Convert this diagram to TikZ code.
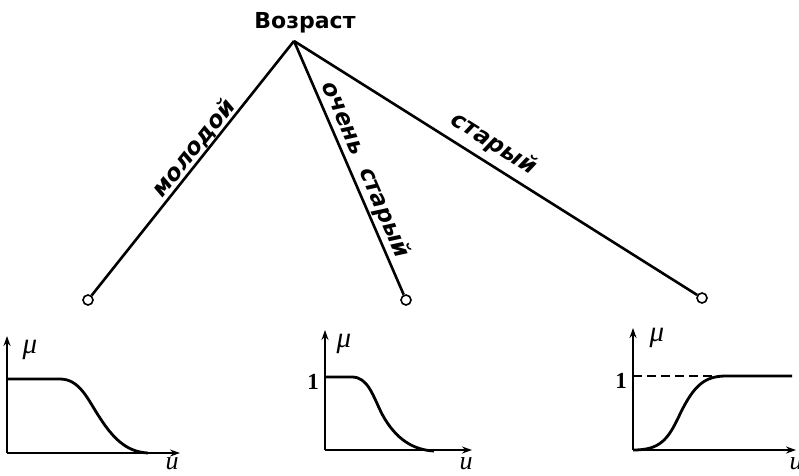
\documentclass[tikz,border=0pt]{standalone}
\usepackage{fontspec}
\setmainfont{DejaVu Sans}
\newfontfamily\serifsym{Liberation Serif}
\usetikzlibrary{arrows.meta}
\tikzset{
  branch/.style={line width=2.6pt},
  leaf/.style={circle,draw,fill=white,line width=1.6pt,inner sep=0pt,minimum size=10pt},
  elabel/.style={font=\fontsize{23}{23}\selectfont\bfseries\itshape,sloped,above},
  axis/.style={line width=2pt,-{Stealth[length=10pt,width=7pt]}},
  curve/.style={line width=2.8pt},
  axlabel/.style={font=\fontsize{29}{29}\selectfont\serifsym\itshape,inner sep=0pt},
  ulabel/.style={font=\fontsize{26}{26}\selectfont\serifsym\itshape,inner sep=0pt,anchor=base,text height=12pt,text depth=0pt},
  onelabel/.style={font=\fontsize{23}{23}\selectfont\serifsym\bfseries,inner sep=0pt},
}
\begin{document}
\begin{tikzpicture}[x=1pt,y=-1pt]
\useasboundingbox (0,0) rectangle (799,475);
% tree
\node[font=\fontsize{22}{22}\selectfont\bfseries] (root) at (305,23) {Возраст};
\coordinate (r) at (294,41);
\node[leaf] (a) at (88,300) {};
\node[leaf] (b) at (406,300) {};
\node[leaf] (c) at (702,298) {};
\draw[branch] (r) -- node[elabel,pos=0.45,inner sep=0pt] {молодой} (a);
\draw[branch] (r) -- node[elabel,pos=0.53,inner sep=2pt] {очень\ \ старый} (b);
\draw[branch] (r) -- node[elabel,pos=0.47,inner sep=7pt] {старый} (c);
% plot 1
\coordinate (o1) at (7,453);
\coordinate (y1) at (7,336);
\coordinate (x1) at (180,453);
\draw[axis] (o1) -- (y1);
\draw[axis] (o1) -- (x1);
\node[axlabel] (m1) at (30,350) {μ};
\node[ulabel] (u1) at (172,469) {u};
\draw[curve] (7,379) -- (60,379) .. controls (80,379) and (88,400) .. (100,418) .. controls (116,443) and (130,452) .. (148,453);
% plot 2
\coordinate (o2) at (325,450);
\coordinate (y2) at (325,330);
\coordinate (x2) at (472,450);
\draw[axis] (o2) -- (y2);
\draw[axis] (o2) -- (x2);
\node[axlabel] (m2) at (344,344) {μ};
\node[onelabel] (one2) at (313,382) {1};
\node[ulabel] (u2) at (466,469) {u};
\draw[curve] (325,377) -- (352,377) .. controls (368,377) and (373,396) .. (382,414) .. controls (396,440) and (414,450) .. (434,451);
% plot 3
\coordinate (o3) at (633,450);
\coordinate (y3) at (633,328);
\coordinate (x3) at (796,450);
\draw[axis] (o3) -- (y3);
\draw[axis] (o3) -- (x3);
\node[axlabel] (m3) at (657,338) {μ};
\node[onelabel] (one3) at (621,381) {1};
\node[ulabel] (u3) at (796,469) {u};
\draw[line width=1.6pt,dash pattern=on 9pt off 5pt] (633,376) -- (722,376);
\draw[curve] (633,450) .. controls (660,450) and (668,440) .. (680,414) .. controls (694,385) and (705,376) .. (726,376) -- (792,376);
\end{tikzpicture}
\end{document}
